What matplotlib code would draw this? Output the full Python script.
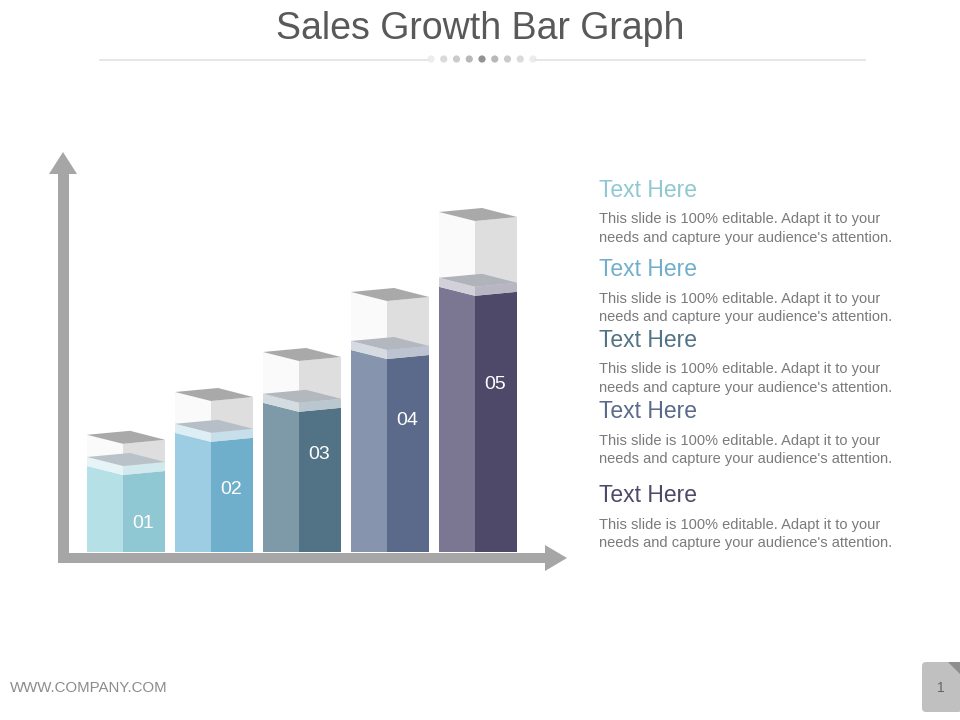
import matplotlib
matplotlib.use("Agg")
import matplotlib.pyplot as plt
from matplotlib.colors import to_rgb
from matplotlib.patches import Polygon, Rectangle, FancyBboxPatch, Circle

plt.rcParams['font.family'] = ['Liberation Sans', 'DejaVu Sans']

# data
labels = ["01", "02", "03", "04", "05"]
sales = [2.15, 2.98, 3.73, 5.05, 6.63]      # coloured part of each bar
targets = [2.93, 4.00, 5.00, 6.50, 8.50]    # height of the ghost box
label_at = [0.70, 1.55, 2.43, 3.28, 4.18]   # where the number sits
left_cols = ["#b4e0e6", "#9ccde2", "#7e9aa8", "#8694ad", "#7b7792"]
right_cols = ["#8fc8d3", "#70afcb", "#527385", "#5b6a8b", "#4e4968"]

headings = ["Text Here"] * 5
heading_cols = ["#8fc8d3", "#70afcb", "#527385", "#5b6a8b", "#4e4968"]
body_lines = ["This slide is 100% editable. Adapt it to your",
              "needs and capture your audience's attention."]

PXX = 1 / 88.0   # x units per pixel
PXY = 1 / 40.0   # y units per pixel


def mix(c, other, t):
    a, b = to_rgb(c), to_rgb(other)
    return tuple(a[k] * (1 - t) + b[k] * t for k in range(3))


fig = plt.figure(figsize=(9.6, 7.2), dpi=100)
fig.patch.set_facecolor("white")

# pixel-space axes for the slide decoration
deco = fig.add_axes([0, 0, 1, 1])
deco.set_xlim(0, 960)
deco.set_ylim(720, 0)
deco.axis("off")

# chart axes: bar index on x, value on y (base of bars at pixel y=552, bar 0 centred at x=126)
ax = fig.add_axes([0, 0, 1, 1])
ax.set_xlim(-126 * PXX, (960 - 126) * PXX)
ax.set_ylim((552 - 720) * PXY, 552 * PXY)
ax.axis("off")
ax.patch.set_alpha(0)

# axis arrows
grey = "#a6a6a6"
deco.add_patch(Rectangle((58, 172), 11, 391, color=grey, lw=0))
deco.add_patch(Polygon([(49, 174), (77, 174), (63, 152)], color=grey, lw=0))
deco.add_patch(Rectangle((58, 552.5), 488, 10.5, color=grey, lw=0))
deco.add_patch(Polygon([(545, 545), (545, 571), (567, 558)], color=grey, lw=0))

hw = 39 * PXX
split = -3 * PXX
dback, dright, dfront = 4 * PXY, -5 * PXY, -9 * PXY
cap = 9 * PXY


def faces(i, y0, y1, lc, rc, z, slant_bottom=True):
    L, M, R = i - hw, i + split, i + hw
    bf = dfront if slant_bottom else 0
    br = dright if slant_bottom else 0
    ax.add_patch(Polygon([(L, y0), (M, y0 + bf), (M, y1 + dfront), (L, y1)],
                         color=lc, lw=0, zorder=z))
    ax.add_patch(Polygon([(M, y0 + bf), (R, y0 + br), (R, y1 + dright), (M, y1 + dfront)],
                         color=rc, lw=0, zorder=z))


def top(i, y, col, z):
    L, M, R = i - hw, i + split, i + hw
    B = L + 43 * PXX
    ax.add_patch(Polygon([(L, y), (B, y + dback), (R, y + dright), (M, y + dfront)],
                         color=col, lw=0, zorder=z))


for i, (v, g) in enumerate(zip(sales, targets)):
    # ghost box
    faces(i, v, g, "#fafafa", "#dedede", 1)
    top(i, g, "#a9a9a9", 2)
    # coloured body
    faces(i, 0, v, left_cols[i], right_cols[i], 3, slant_bottom=False)
    # lighter cap band and its top face
    faces(i, v, v + cap, mix(left_cols[i], "white", 0.66), mix(right_cols[i], "white", 0.6), 4)
    top(i, v + cap, mix("#bfc1c6", right_cols[i], 0.12), 5)
    ax.text(i + 0.2, label_at[i], labels[i], color="white", fontsize=14,
            ha="center", va="center", zorder=6)

# title and divider
deco.text(480, 39, "Sales Growth Bar Graph", fontsize=27, color="#595959",
          ha="center", va="baseline")
deco.plot([100, 428], [60, 60], color="#e2e2e2", lw=1.2)
deco.plot([535, 865], [60, 60], color="#e2e2e2", lw=1.2)
dot_cols = ["#ececec", "#dadada", "#cbcbcb", "#b8b8b8", "#929292",
            "#b8b8b8", "#cbcbcb", "#dadada", "#ececec"]
for k, c in enumerate(dot_cols):
    deco.add_patch(Circle((431 + 12.75 * k, 59), 3.6, color=c, lw=0))

# right-hand text blocks
head_base = [197, 276, 347, 418, 502]
for hb, h, c in zip(head_base, headings, heading_cols):
    deco.text(599, hb, h, fontsize=16.5, color=c, ha="left", va="baseline")
    for k, line in enumerate(body_lines):
        deco.text(599, hb + 26.5 + 18.5 * k, line, fontsize=10.5, color="#7a7a7a",
                  ha="left", va="baseline")

# footer
deco.text(10, 692, "WWW.COMPANY.COM", fontsize=10.8, color="#8c8c8c", ha="left", va="baseline")
deco.add_patch(FancyBboxPatch((922, 662), 40, 50, boxstyle="round,pad=0,rounding_size=4",
                              color="#c0c0c0", lw=0))
deco.add_patch(Polygon([(948, 662), (962, 662), (962, 676)], color="#8e8e8e", lw=0))
deco.text(941, 688, "1", fontsize=10, color="#666666", ha="center", va="center")

fig.savefig("out.png", dpi=100)
